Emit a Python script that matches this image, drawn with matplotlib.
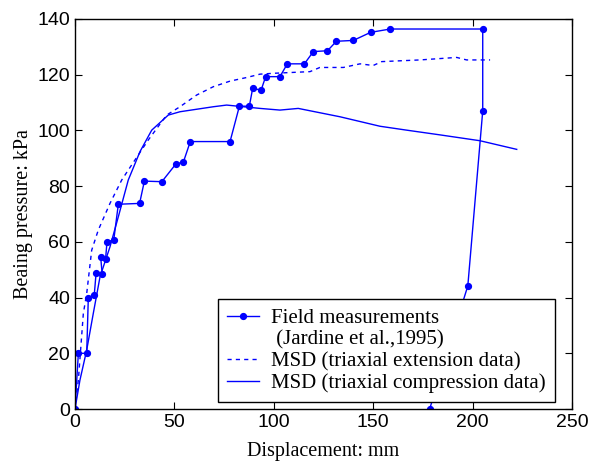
import matplotlib
matplotlib.use("Agg")
import matplotlib.pyplot as plt
from matplotlib.lines import Line2D

# field measurements (Jardine et al., 1995)
field_x = [0, 1.7, 5.9, 6.7, 9.7, 10.6, 13.7, 12.9, 15.4, 16.1, 19.5, 21.8, 32.5, 34.9, 43.7,
           50.8, 54.5, 58, 78, 82.7, 87.7, 89.4, 93.6, 95.9, 103.1, 106.8, 115.4, 119.9, 127,
           131.5, 140, 148.7, 158.6, 205.1, 205.1, 197.6, 178.4]
field_y = [0, 20, 20, 40, 41, 48.7, 48.3, 54.7, 54, 60, 60.7, 73.5, 73.8, 81.8, 81.6,
           88, 88.6, 96, 96, 108.7, 108.7, 115.2, 114.4, 119.3, 119.3, 123.9, 123.9, 128.3, 128.6,
           132, 132.3, 135.2, 136.4, 136.4, 107, 44.2, 0]

# MSD, triaxial extension data
ext_x = [0, 1.7, 4.2, 5.9, 8.4, 11.7, 17.6, 23.5, 28.5, 36.9, 46.1, 52.8, 61.2, 69.6, 78, 86.4,
         93.1, 99.7, 118.2, 123.2, 135, 143.4, 150, 154.3, 173.5, 192, 197, 208.8]
ext_y = [0, 10.4, 34.3, 41.5, 57, 64.2, 73.8, 82.2, 87.6, 96.6, 105.5, 108.5, 112.7, 115.7, 117.7, 119,
         120.2, 120.5, 121.1, 122.6, 122.6, 123.9, 123.3, 124.7, 125.3, 126.2, 125.3, 125.3]

# MSD, triaxial compression data
comp_x = [0, 2.5, 5.9, 9.2, 12.6, 17.6, 21.8, 26.8, 32.7, 38.6, 46.9, 52.8, 69.6, 76.3, 93.1,
          103.1, 112.3, 133.3, 153.4, 166.8, 183.6, 203.7, 222.2]
comp_y = [0, 10.4, 21.2, 34.3, 47.5, 58.2, 69, 82.2, 92.4, 100.1, 105.5, 106.7, 108.5, 109.1, 107.9,
          107.3, 107.9, 104.9, 101.5, 100.1, 98.4, 96.3, 93.2]

blue = "#0000ff"
serif = "Liberation Serif"
plt.rcParams["font.family"] = "Liberation Sans"

fig = plt.figure(figsize=(5.98, 4.63), dpi=100)
ax = fig.add_axes([0.1254, 0.1166, 0.8311, 0.8424])

ax.plot(field_x, field_y, color=blue, lw=1.0, marker="o", ms=4.2)
ax.plot(ext_x, ext_y, color=blue, lw=1.0, ls=(0, (3, 3)))
ax.plot(comp_x, comp_y, color=blue, lw=1.0)

ax.set_xlim(0, 250)
ax.set_ylim(0, 140)
ax.set_xticks(range(0, 251, 50))
ax.set_yticks(range(0, 141, 20))
ax.tick_params(direction="in", top=True, right=True, length=5, labelsize=14)
for s in ax.spines.values():
    s.set_linewidth(1.0)

ax.set_xlabel("Displacement: mm", fontfamily=serif, fontsize=14.5, labelpad=8)
ax.set_ylabel("Beaing pressure: kPa", fontfamily=serif, fontsize=14.5, labelpad=3)

handles = [
    Line2D([], [], color=blue, lw=1.0, marker="o", ms=4.2),
    Line2D([], [], ls="none"),
    Line2D([], [], color=blue, lw=1.0, ls=(0, (3, 3))),
    Line2D([], [], color=blue, lw=1.0),
]
labels = ["Field measurements", " (Jardine et al.,1995)",
          "MSD (triaxial extension data)", "MSD (triaxial compression data)"]
leg = ax.legend(handles, labels, loc="upper left", bbox_to_anchor=(218 / 598, 1 - 299 / 463),
                bbox_transform=fig.transFigure, prop={"family": serif, "size": 15},
                fancybox=False, framealpha=1, edgecolor="black", handlelength=1.5,
                labelspacing=0.1, borderpad=0.45, handletextpad=0.6, borderaxespad=0)
leg.get_frame().set_linewidth(1.0)

fig.savefig("out.png", dpi=100)
